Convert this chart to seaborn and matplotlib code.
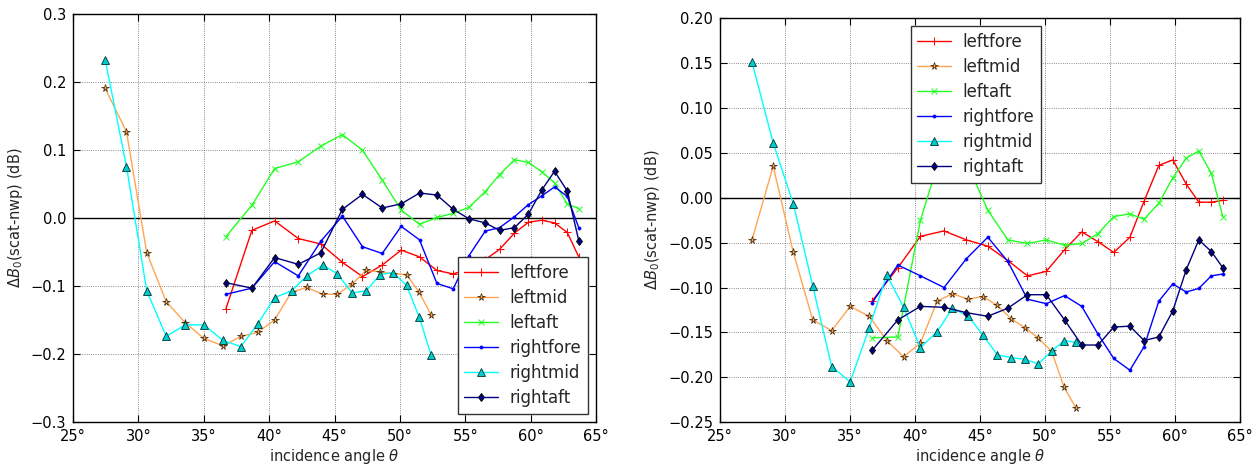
import numpy as np
import pandas as pd
import matplotlib
matplotlib.use("Agg")
import matplotlib.pyplot as plt
import seaborn as sns

# incidence angles (deg)
theta_mid = [27.46, 29.09, 30.64, 32.13, 33.59, 35.01, 36.48, 37.83, 39.12, 40.41, 41.71,
             42.88, 44.11, 45.22, 46.34, 47.41, 48.49, 49.47, 50.51, 51.47, 52.38]
theta_fa = [36.70, 38.68, 40.42, 42.23, 43.95, 45.60, 47.14, 48.65, 50.10, 51.50, 52.83,
            54.08, 55.29, 56.53, 57.62, 58.76, 59.83, 60.87, 61.83, 62.80, 63.68]

# left panel
L_leftfore = [-0.133, -0.018, -0.004, -0.030, -0.038, -0.065, -0.086, -0.069, -0.047, -0.057, -0.077,
              -0.082, -0.075, -0.061, -0.046, -0.022, -0.006, -0.003, -0.007, -0.021, -0.057]
L_leftmid = [0.191, 0.127, -0.051, -0.123, -0.154, -0.177, -0.188, -0.174, -0.168, -0.150, -0.109,
             -0.102, -0.112, -0.112, -0.097, -0.077, -0.079, -0.082, -0.083, -0.109, -0.142]
L_leftaft = [-0.027, 0.019, 0.073, 0.083, 0.106, 0.123, 0.100, 0.056, 0.012, -0.009, 0.001,
             0.007, 0.016, 0.039, 0.064, 0.086, 0.082, 0.068, 0.052, 0.021, 0.014]
L_rightfore = [-0.112, -0.103, -0.064, -0.085, -0.034, 0.003, -0.042, -0.052, -0.012, -0.032, -0.096,
               -0.104, -0.055, -0.019, -0.014, 0.002, 0.020, 0.033, 0.046, 0.032, -0.014]
L_rightmid = [0.233, 0.076, -0.107, -0.174, -0.157, -0.157, -0.180, -0.189, -0.156, -0.117, -0.107,
              -0.085, -0.069, -0.082, -0.110, -0.107, -0.083, -0.080, -0.099, -0.145, -0.201]
L_rightaft = [-0.095, -0.103, -0.058, -0.068, -0.051, 0.013, 0.035, 0.015, 0.021, 0.037, 0.034,
              0.013, -0.001, -0.007, -0.018, -0.014, 0.006, 0.042, 0.069, 0.040, -0.033]

# right panel
R_leftfore = [-0.115, -0.078, -0.043, -0.037, -0.047, -0.054, -0.070, -0.087, -0.082, -0.058, -0.038,
              -0.049, -0.061, -0.044, -0.004, 0.036, 0.042, 0.015, -0.005, -0.005, -0.003]
R_leftmid = [-0.047, 0.035, -0.061, -0.136, -0.148, -0.121, -0.132, -0.159, -0.177, -0.162, -0.115,
             -0.107, -0.113, -0.110, -0.120, -0.135, -0.145, -0.156, -0.171, -0.211, -0.234]
R_leftaft = [-0.156, -0.155, -0.025, 0.060, 0.040, -0.014, -0.047, -0.051, -0.047, -0.053, -0.051,
             -0.040, -0.021, -0.018, -0.024, -0.006, 0.022, 0.044, 0.052, 0.027, -0.021]
R_rightfore = [-0.117, -0.075, -0.087, -0.100, -0.068, -0.044, -0.071, -0.113, -0.118, -0.109, -0.121,
               -0.152, -0.179, -0.192, -0.166, -0.115, -0.096, -0.105, -0.101, -0.087, -0.085]
R_rightmid = [0.151, 0.061, -0.007, -0.098, -0.188, -0.205, -0.145, -0.086, -0.122, -0.167, -0.149,
              -0.123, -0.132, -0.153, -0.175, -0.178, -0.180, -0.185, -0.171, -0.159, -0.161]
R_rightaft = [-0.170, -0.136, -0.121, -0.122, -0.128, -0.132, -0.123, -0.108, -0.108, -0.136, -0.164,
              -0.164, -0.144, -0.143, -0.159, -0.155, -0.126, -0.080, -0.047, -0.060, -0.078]

names = ["leftfore", "leftmid", "leftaft", "rightfore", "rightmid", "rightaft"]
x_ticks = [25, 30, 35, 40, 45, 50, 55, 60, 65]
x_ticklabels = ["25°", "30°", "35°", "40°", "45°", "50°", "55°", "60°", "65°"]
left_yticks = [-0.3, -0.2, -0.1, 0.0, 0.1, 0.2, 0.3]
right_yticks = [-0.25, -0.20, -0.15, -0.10, -0.05, 0.00, 0.05, 0.10, 0.15, 0.20]

styles = {
    "leftfore": dict(color="#ff0000", marker="+", ms=6, mec="#ff0000", mew=0.7),
    "leftmid": dict(color="#ffa552", marker="*", ms=5.5, mec="#3a2000", mew=0.5),
    "leftaft": dict(color="#22ff22", marker="x", ms=4.5, mec="#22ff22", mew=0.7),
    "rightfore": dict(color="#0000ff", marker=".", ms=4.5, mec="#0000ff", mew=0.5),
    "rightmid": dict(color="#00ffff", marker="^", ms=5.5, mec="#003333", mew=0.6, mfc="#00cccc"),
    "rightaft": dict(color="#000080", marker="d", ms=4.5, mec="#000000", mew=0.6),
}

sns.set_style("ticks")
plt.rcParams["font.family"] = ["DejaVu Sans"]
plt.rcParams["mathtext.fontset"] = "dejavusans"

fig = plt.figure(figsize=(12.59, 4.66), dpi=100)
ax1 = fig.add_axes([0.058, 0.0944, 0.4154, 0.8749])
ax2 = fig.add_axes([0.5719, 0.0938, 0.4130, 0.8676])

def draw(ax, data, ylim, yticks, yfmt, legloc, bbox):
    for nm in names:
        x = theta_mid if nm.endswith("mid") else theta_fa
        df = pd.DataFrame({"theta": x, "dB": data[nm]})
        st = styles[nm]
        sns.lineplot(data=df, x="theta", y="dB", ax=ax, sort=False, label=nm,
                     color=st["color"], lw=1.0, marker=st["marker"], markersize=st["ms"],
                     markeredgecolor=st["mec"], markeredgewidth=st["mew"],
                     markerfacecolor=st.get("mfc", st["color"]))
    ax.axhline(0, color="black", lw=1.0, zorder=1)
    ax.set_xlim(25, 65)
    ax.set_ylim(*ylim)
    ax.set_xticks(x_ticks)
    ax.set_xticklabels(x_ticklabels)
    ax.set_yticks(yticks)
    ax.set_yticklabels([yfmt.format(v).replace("-", "\u2212") for v in yticks])
    ax.grid(True, color="black", linestyle=":", lw=0.6, alpha=0.6)
    ax.tick_params(direction="in", top=True, right=True, length=5, width=0.8,
                   labelsize=10.5, colors="black", pad=5)
    for sp in ax.spines.values():
        sp.set_visible(True)
        sp.set_color("black")
        sp.set_linewidth(1.0)
    ax.set_xlabel(r"incidence angle $\theta$", fontsize=10.5, labelpad=2)
    ax.set_ylabel(r"$\Delta B_0$(scat-nwp) (dB)", fontsize=10.5, labelpad=4)
    leg = ax.legend(loc=legloc, bbox_to_anchor=bbox, numpoints=1, fontsize=12,
                    frameon=True, fancybox=False, framealpha=1.0, edgecolor="#333333",
                    borderpad=0.4, labelspacing=0.42, handlelength=2.0, handletextpad=0.7,
                    borderaxespad=0.5)
    leg.get_frame().set_linewidth(1.0)

data_left = dict(zip(names, [L_leftfore, L_leftmid, L_leftaft, L_rightfore, L_rightmid, L_rightaft]))
data_right = dict(zip(names, [R_leftfore, R_leftmid, R_leftaft, R_rightfore, R_rightmid, R_rightaft]))

draw(ax1, data_left, (-0.3, 0.3), left_yticks, "{:.1f}", "lower right", (1.0, 0.0))
draw(ax2, data_right, (-0.25, 0.20), right_yticks, "{:.2f}", "upper center", (0.492, 1.0))

fig.savefig("out.png", dpi=100)
